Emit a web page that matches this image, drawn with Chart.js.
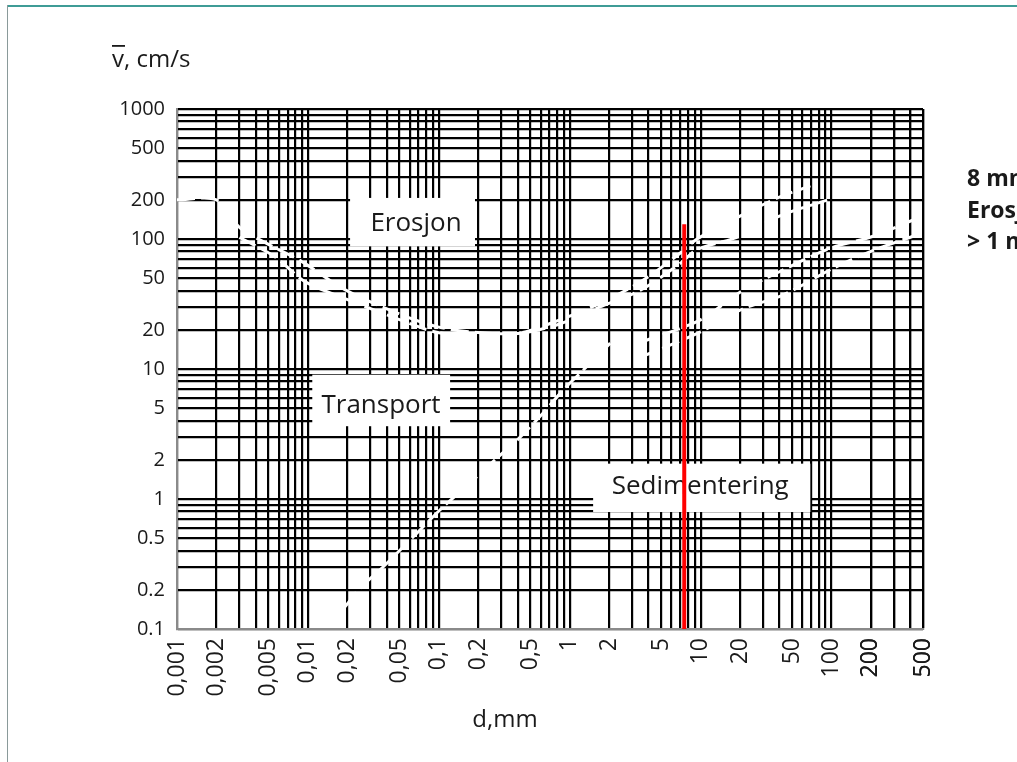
<!DOCTYPE html>
<html><head><meta charset="utf-8">
<script src="https://cdn.jsdelivr.net/npm/chart.js@4.4.1/dist/chart.umd.min.js"></script>
<style>html,body{margin:0;padding:0;background:#fff;}#wrap{width:1017px;height:762px;}</style>
</head><body><div id="wrap"><canvas id="c" width="1017" height="762"></canvas></div>
<script>
// ---- axis ranges ----
const xMin = 0.001, xMax = 500;
const yMin = 0.1, yMax = 1000;

// ---- tick labels ----
const xLabelValues = [0.001,0.002,0.005,0.01,0.02,0.05,0.1,0.2,0.5,1,2,5,10,20,50,100,200,500];
const xLabelTexts  = ['0,001','0,002','0,005','0,01','0,02','0,05','0,1','0,2','0,5','1','2','5','10','20','50','100','200','500'];
const yLabelValues = [1000,500,200,100,50,20,10,5,2,1,0.5,0.2,0.1];
const yLabelTexts  = ['1000','500','200','100','50','20','10','5','2','1','0.5','0.2','0.1'];

// ---- grid (log paper) ----
const gridMultipliers = [1,2,3,4,5,6,7,8,9];
const xGridDecades = [0.001,0.01,0.1,1,10,100];
const yGridDecades = [0.1,1,10,100];

// ---- curves (d in mm, v in cm/s) ----
const erosionUpperD = [0.001,0.002,0.003,0.005,0.009,0.019,0.05,0.1,0.21,0.42,0.85,1.7,3.5,7,9.4,20,40,69];
const erosionUpperV = [200,200,123,91,67,41,26.5,21,19,19,24,32,47,78,100,150,210,256];
const erosionLowerD = [0.003,0.0056,0.0095,0.019,0.05,0.1,0.21,0.42,0.85,1.7,3.5,7,9.4,20,40,98];
const erosionLowerV = [103,73,47,35,24,19,18.2,18.8,22.3,30,40.6,65,83,105,150,203];
const sedimentD = [0.0192,0.0251,0.0375,0.0636,0.102,0.183,0.279,0.397,0.627,0.891,1.27,2.04];
const sedimentV = [0.148,0.207,0.3,0.51,0.823,1.4,2.07,2.84,4.59,6.89,9.82,15.8];
const coarseUpperD = [3.45,9.9,20,40,98,208,493];
const coarseUpperV = [16,23.8,39,56,85,105,150];
const coarseLowerD = [3.45,9.9,20,43,98,198,493];
const coarseLowerV = [12.3,19.2,28.4,37.2,58,80,111];
const markD = [7.5, 7.5];
const markV = [0.1, 130];

// ---- region labels ----
const regionNames = ['Erosjon','Transport','Sedimentering'];
const regionAtD   = [0.067, 0.0362, 9.93];
const regionAtV   = [132, 5.2, 1.24];
const regionBoxD  = [[0.021,0.189],[0.0108,0.122],[1.51,68.9]];
const regionBoxV  = [[87.8,207],[3.63,9.04],[0.794,1.87]];
const noteLines = ['8 mm', 'Erosjon', '> 1 m/s'];

const toPts = (xs, ys) => xs.map((x, i) => ({x, y: ys[i]}));
const grid = decades => { const a = []; decades.forEach(d => gridMultipliers.forEach(m => a.push(+(m*d).toPrecision(6)))); return a; };
const xGrid = grid(xGridDecades).concat([200,300,400,500]).filter(v => v >= xMin && v <= xMax);
const yGrid = grid(yGridDecades).concat([1000]).filter(v => v >= yMin && v <= yMax);
const lbl = (vals, texts) => v => { const i = vals.findIndex(u => Math.abs(u - v) / u < 1e-6); return i >= 0 ? texts[i] : ''; };

const FONT = "'Open Sans', 'Noto Sans', sans-serif";
const TXT = '#1a1a1a';

const curveStyle = {borderColor:'#ffffff', borderWidth:3, borderDash:[18,6], pointRadius:0, fill:false, tension:0.3};

const framePlugin = {
  id:'frame',
  beforeDraw(chart){
    const c = chart.ctx;
    c.save();
    c.fillStyle = '#fff'; c.fillRect(0,0,chart.width,chart.height);
    c.fillStyle = '#3f9c96'; c.fillRect(7,5,chart.width-7,2);
    c.fillStyle = '#8a9a9a'; c.fillRect(7,5,1,chart.height-5);
    c.restore();
  }
};

const boxesPlugin = {
  id:'boxes',
  beforeDatasetsDraw(chart){
    const c = chart.ctx, xs = chart.scales.x, ys = chart.scales.y;
    c.save();
    regionNames.forEach((name, i) => {
      const x0 = xs.getPixelForValue(regionBoxD[i][0]), x1 = xs.getPixelForValue(regionBoxD[i][1]);
      const y0 = ys.getPixelForValue(regionBoxV[i][1]), y1 = ys.getPixelForValue(regionBoxV[i][0]);
      c.fillStyle = '#fff'; c.fillRect(x0, y0, x1-x0, y1-y0);
      c.fillStyle = TXT; c.font = '26px ' + FONT; c.textAlign = 'center'; c.textBaseline = 'middle';
      c.fillText(name, xs.getPixelForValue(regionAtD[i]), ys.getPixelForValue(regionAtV[i]));
    });
    c.restore();
  }
};

const titlesPlugin = {
  id:'titles',
  afterDraw(chart){
    const c = chart.ctx;
    c.save();
    c.fillStyle = TXT; c.textBaseline = 'alphabetic';
    c.font = '24px ' + FONT; c.textAlign = 'left';
    c.fillText('v, cm/s', 112, 67);
    const vw = c.measureText('v').width;
    c.fillRect(112, 45, vw + 1, 1.8);
    c.textAlign = 'center'; c.font = '24px ' + FONT;
    c.fillText('d,mm', 505, 727);
    c.textAlign = 'left'; c.font = 'bold 23px ' + FONT;
    noteLines.forEach((t, i) => c.fillText(t, 967, 186 + i*31.5));
    c.restore();
  }
};

new Chart(document.getElementById('c'), {
  type:'line',
  data:{datasets:[
    {data: toPts(markD, markV), borderColor:'#ff0000', borderWidth:4, pointRadius:0, fill:false, tension:0},
    Object.assign({data: toPts(erosionUpperD, erosionUpperV)}, curveStyle),
    Object.assign({data: toPts(erosionLowerD, erosionLowerV)}, curveStyle),
    Object.assign({data: toPts(sedimentD, sedimentV)}, curveStyle),
    Object.assign({data: toPts(coarseUpperD, coarseUpperV)}, curveStyle),
    Object.assign({data: toPts(coarseLowerD, coarseLowerV)}, curveStyle)
  ]},
  options:{
    responsive:false, animation:false, devicePixelRatio:1,
    layout:{padding:{left:0,right:94,top:109,bottom:0}},
    plugins:{legend:{display:false}, tooltip:{enabled:false}},
    scales:{
      x:{type:'logarithmic', min:xMin, max:xMax, bounds:'data',
        afterBuildTicks: s => { s.ticks = xGrid.map(v => ({value:v})); },
        afterFit: s => { s.height = 133; },
        ticks:{autoSkip:false, minRotation:90, maxRotation:90, padding:9, color:TXT,
          font:{family:FONT, size:23}, callback: lbl(xLabelValues, xLabelTexts)},
        grid:{color:'#000', lineWidth:2.2, drawTicks:false},
        border:{color:'#8a8a8a', width:2}},
      y:{type:'logarithmic', min:yMin, max:yMax, bounds:'data',
        afterBuildTicks: s => { s.ticks = yGrid.map(v => ({value:v})); },
        afterFit: s => { s.width = 177; },
        ticks:{autoSkip:false, padding:12, color:TXT,
          font:{family:FONT, size:20}, callback: lbl(yLabelValues, yLabelTexts)},
        grid:{color:'#000', lineWidth:2.2, drawTicks:false},
        border:{color:'#8a8a8a', width:2}}
    }
  },
  plugins:[framePlugin, boxesPlugin, titlesPlugin]
});
</script></body></html>
